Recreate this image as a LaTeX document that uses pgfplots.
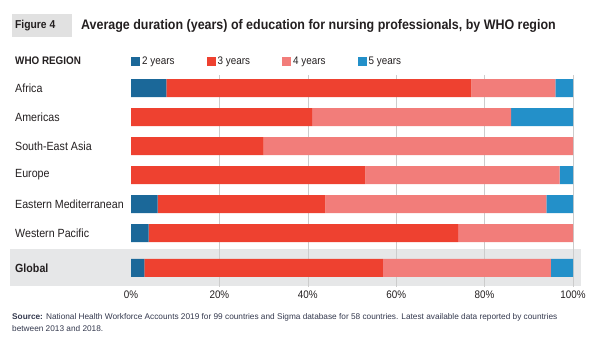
\documentclass[border=0pt]{standalone}
\usepackage{fontspec}
\setmainfont{Liberation Sans}[FakeStretch=0.9]
\newfontfamily\srcfont{Liberation Sans}
\usepackage{pgfplots}
\pgfplotsset{compat=1.18}
\definecolor{cA}{HTML}{1B6899}
\definecolor{cB}{HTML}{EE4130}
\definecolor{cC}{HTML}{F27D7A}
\definecolor{cD}{HTML}{2390C9}
\definecolor{band}{HTML}{E6E7E8}
\definecolor{tbox}{HTML}{E1E1E1}
\definecolor{txt}{HTML}{231F20}
\definecolor{srctxt}{HTML}{33384D}
\begin{document}
\begin{tikzpicture}[text=txt]
\path[use as bounding box] (0bp,0bp) rectangle (595bp,-358bp);
\fill[band] (10bp,-249bp) rectangle (581bp,-286bp);
\fill[tbox] (12bp,-14bp) rectangle (72bp,-37bp);
\node[anchor=west, inner sep=0, font=\bfseries\fontsize{11.5}{13}\selectfont] at (15bp,-25.5bp) {Figure 4};
\node[anchor=west, inner sep=0, font=\bfseries\fontsize{13.9}{16}\selectfont] at (81bp,-25.5bp) {Average duration (years) of education for nursing professionals, by WHO region};
\node[anchor=west, inner sep=0, font=\bfseries\fontsize{11}{12}\selectfont] at (15bp,-61bp) {WHO REGION};
\begin{axis}[
  xbar stacked, bar width=18bp,
  scale only axis, width=442bp, height=212bp,
  at={(131bp,-287bp)}, anchor=south west,
  xmin=0, xmax=100, ymin=-0.45, ymax=6.86, y dir=reverse,
  axis line style={draw=none}, major tick length=0pt,
  /pgf/number format/assume math mode=true,
  xtick={20,40,60,80,100}, xmajorgrids,
  grid style={color=black!20, line width=0.6pt},
  extra x ticks={0}, extra x tick labels={0\%}, extra x tick style={grid=none},
  xticklabel={\pgfmathprintnumber{\tick}\%},
  xticklabel style={anchor=center, yshift=-8bp, font=\fontsize{11}{12}\selectfont},
  ytick={0,1,2,3,4,5,6.2},
  yticklabels={Africa,Americas,South-East Asia,Europe,Eastern Mediterranean,Western Pacific,\textbf{Global}},
  yticklabel style={anchor=west, inner sep=0pt, xshift=-116bp, font=\fontsize{11.9}{13}\selectfont},
  legend columns=4,
  legend cell align=left,
  legend style={draw=none, fill=none, at={(0,1.066)}, anchor=west, inner sep=0pt,
    font=\fontsize{11}{12}\selectfont,
    /tikz/every even column/.append style={column sep=0pt}},
  legend image code/.code={\fill[#1] (0bp,-4.5bp) rectangle (9bp,4.5bp);},
]
\addplot[fill=cA, draw=none] coordinates {(8,0) (0,1) (0,2) (0,3) (6,4) (4,5) (3,6.2)};
\addplot[fill=cB, draw=none] coordinates {(69,0) (41,1) (30,2) (53,3) (38,4) (70,5) (54,6.2)};
\addplot[fill=cC, draw=none] coordinates {(19,0) (45,1) (70,2) (44,3) (50,4) (26,5) (38,6.2)};
\addplot[fill=cD, draw=none] coordinates {(4,0) (14,1) (0,2) (3,3) (6,4) (0,5) (5,6.2)};
\legend{\makebox[62.5bp][l]{2 years},\makebox[62.5bp][l]{3 years},\makebox[62.5bp][l]{4 years},\makebox[62.5bp][l]{5 years}}
\end{axis}
\node[anchor=north west, inner sep=0, align=left, text=srctxt, font=\srcfont\fontsize{8.3}{12.6}\selectfont] at (12bp,-313bp) {\textbf{Source:} National Health Workforce Accounts 2019 for 99 countries and Sigma database for 58 countries. Latest available data reported by countries\\between 2013 and 2018.};
\end{tikzpicture}
\end{document}
